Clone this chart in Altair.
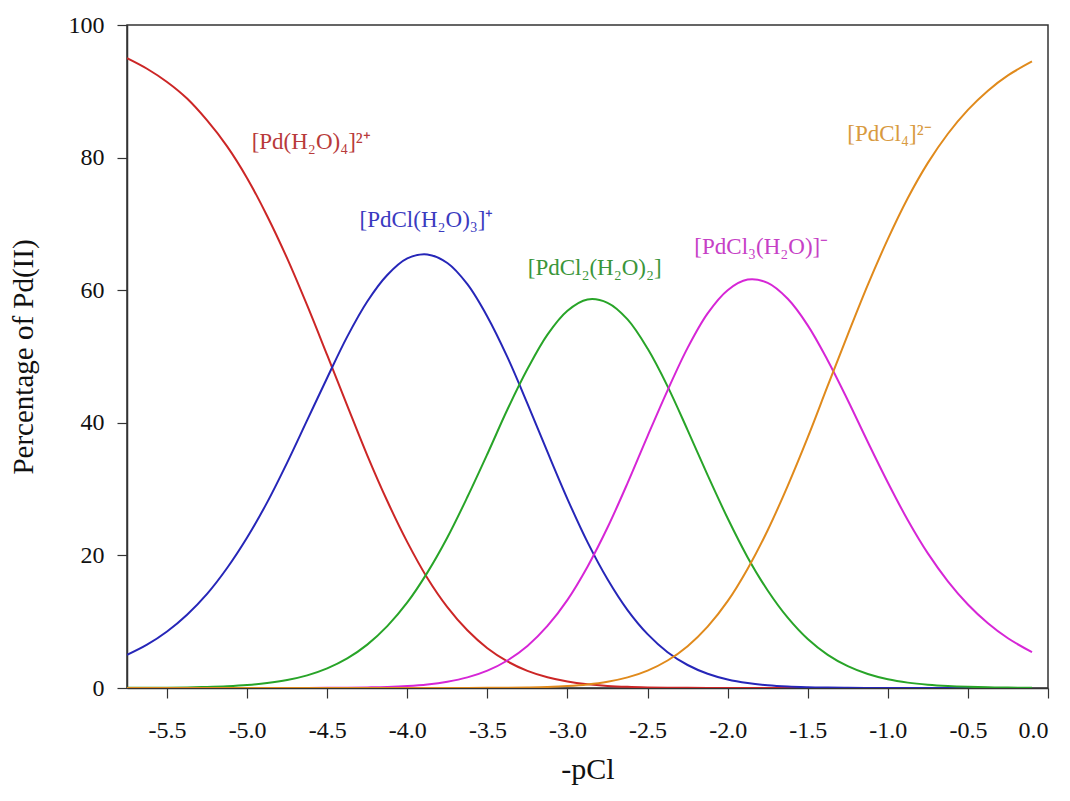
import altair as alt
import pandas as pd

# -pCl grid (x values of the sampled curve points)
pcl = [-5.75, -5.625, -5.5, -5.375, -5.25, -5.125, -5.0, -4.875, -4.75, -4.625,
       -4.5, -4.375, -4.25, -4.125, -4.0, -3.875, -3.75, -3.625, -3.5, -3.375,
       -3.25, -3.125, -3.0, -2.875, -2.75, -2.625, -2.5, -2.375, -2.25, -2.125,
       -2.0, -1.875, -1.75, -1.625, -1.5, -1.375, -1.25, -1.125, -1.0, -0.875,
       -0.75, -0.625, -0.5, -0.375, -0.25, -0.1]

# Percentage of Pd(II) for each species
pd_h2o4 = [95.0, 93.4, 91.4, 88.9, 85.6, 81.7, 76.9, 71.2, 64.8, 57.7,
           50.2, 42.6, 35.1, 28.2, 22.0, 16.6, 12.2, 8.70, 6.0, 4.01,
           2.58, 1.61, 0.97, 0.56, 0.31, 0.17, 0.09, 0.04, 0.02, 0.01,
           0, 0, 0, 0, 0, 0, 0, 0, 0, 0,
           0, 0, 0, 0, 0, 0]
pdcl_h2o3 = [5.0, 6.54, 8.53, 11.06, 14.2, 18.1, 22.7, 28.0, 34.0, 40.4,
             46.8, 53.0, 58.3, 62.3, 64.8, 65.4, 64.1, 60.9, 56.0, 49.9,
             42.9, 35.6, 28.5, 22.0, 16.4, 11.75, 8.12, 5.40, 3.47, 2.15,
             1.28, 0.74, 0.41, 0.22, 0.12, 0.06, 0.03, 0.01, 0.01, 0,
             0, 0, 0, 0, 0, 0]
pdcl2_h2o2 = [0.02, 0.03, 0.05, 0.09, 0.16, 0.27, 0.45, 0.75, 1.21, 1.91,
              2.96, 4.46, 6.54, 9.33, 12.9, 17.4, 22.7, 28.8, 35.3, 42.0,
              48.1, 53.3, 56.9, 58.6, 58.1, 55.6, 51.2, 45.5, 38.9, 32.1,
              25.6, 19.7, 14.7, 10.6, 7.38, 5.00, 3.29, 2.11, 1.32, 0.81,
              0.49, 0.29, 0.17, 0.10, 0.06, 0.03]
pdcl3_h2o = [0, 0, 0, 0, 0, 0, 0, 0, 0.01, 0.01,
             0.02, 0.04, 0.09, 0.16, 0.30, 0.54, 0.95, 1.60, 2.62, 4.15,
             6.34, 9.36, 13.3, 18.3, 24.2, 30.9, 38.0, 44.9, 51.3, 56.5,
             60.0, 61.6, 61.1, 58.7, 54.7, 49.4, 43.4, 37.1, 31.0, 25.3,
             20.3, 16.1, 12.6, 9.77, 7.5, 5.4]
pdcl4 = [0, 0, 0, 0, 0, 0, 0, 0, 0, 0,
         0, 0, 0, 0, 0, 0, 0, 0.01, 0.02, 0.04,
         0.08, 0.15, 0.29, 0.53, 0.94, 1.60, 2.63, 4.15, 6.31, 9.26,
         13.1, 18.0, 23.8, 30.5, 37.8, 45.6, 53.3, 60.8, 67.7, 73.9,
         79.2, 83.6, 87.2, 90.1, 92.4, 94.5]

species = ["Pd(H2O)4", "PdCl(H2O)3", "PdCl2(H2O)2", "PdCl3(H2O)", "PdCl4"]
line_colors = ["#cc2626", "#2626b8", "#28a428", "#d626d6", "#e08a1c"]
label_colors = ["#b83a3a", "#3a3ac0", "#3a963a", "#c640c6", "#d89a40"]

# Species labels and their positions (data units)
label_texts = ["[Pd(H₂O)₄]²⁺", "[PdCl(H₂O)₃]⁺", "[PdCl₂(H₂O)₂]", "[PdCl₃(H₂O)]⁻", "[PdCl₄]²⁻"]
label_x = [-4.6, -3.88, -2.83, -1.79, -0.99]
label_y = [82.4, 70.6, 63.3, 66.5, 83.6]

series = [pd_h2o4, pdcl_h2o3, pdcl2_h2o2, pdcl3_h2o, pdcl4]
rows = []
for name, vals in zip(species, series):
    for x, v in zip(pcl, vals):
        rows.append({"pcl": x, "pct": v, "species": name})
df = pd.DataFrame(rows)

labels = pd.DataFrame({"text": label_texts, "x": label_x, "y": label_y,
                       "color": label_colors})

FONT = "Liberation Serif"

xscale = alt.Scale(domain=[-5.75, 0.0], nice=False, zero=False)
yscale = alt.Scale(domain=[0, 100], nice=False)

lines = alt.Chart(df).mark_line(strokeWidth=2, interpolate="catmull-rom", clip=True).encode(
    x=alt.X("pcl:Q", scale=xscale,
            axis=alt.Axis(title="-pCl", values=[-5.5, -5.0, -4.5, -4.0, -3.5, -3.0, -2.5,
                                                -2.0, -1.5, -1.0, -0.5, 0.0],
                          labelExpr="replace(format(datum.value, '.1f'), '\u2212', '-')",
                          labelPadding=20, titlePadding=12, titleFontSize=30)),
    y=alt.Y("pct:Q", scale=yscale,
            axis=alt.Axis(title="Percentage of Pd(II)", values=[0, 20, 40, 60, 80, 100],
                          labelPadding=13, titlePadding=30, titleFontSize=29)),
    color=alt.Color("species:N", scale=alt.Scale(domain=species, range=line_colors),
                    legend=None),
    order=alt.Order("pcl:Q"),
)

text = alt.Chart(labels).mark_text(font=FONT, fontSize=23, align="center",
                                   baseline="middle").encode(
    x=alt.X("x:Q", scale=xscale),
    y=alt.Y("y:Q", scale=yscale),
    text="text:N",
    color=alt.Color("color:N", scale=None),
)

chart = alt.layer(lines, text).properties(
    width=921, height=663,
    autosize=alt.AutoSizeParams(type="none"),
    padding={"left": 127, "top": 25, "right": 22, "bottom": 113},
    background="white",
).configure_view(
    stroke="#333333", strokeWidth=1.5
).configure_axis(
    grid=False,
    domainColor="#333333",
    domainWidth=1.5,
    tickColor="#333333",
    tickSize=10,
    tickWidth=1.2,
    labelFont=FONT,
    labelFontSize=24,
    labelColor="#111111",
    titleFont=FONT,
    titleFontWeight="normal",
    titleColor="#111111",
)

chart.save("out.html", embed_options={"renderer": "svg", "actions": False})
